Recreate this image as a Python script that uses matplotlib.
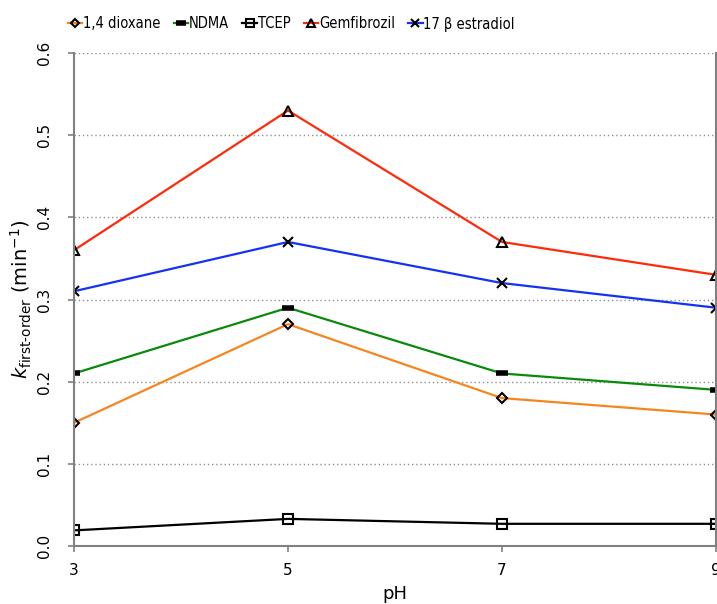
import matplotlib.pyplot as plt

# first-order rate constants vs pH
ph = [3, 5, 7, 9]
dioxane = [0.15, 0.27, 0.18, 0.16]
ndma = [0.21, 0.29, 0.21, 0.19]
tcep = [0.019, 0.033, 0.027, 0.027]
gemfibrozil = [0.36, 0.53, 0.37, 0.33]
estradiol = [0.31, 0.37, 0.32, 0.29]

series = [
    ('1,4 dioxane', dioxane, '#F5861F', 'D', 5),
    ('NDMA', ndma, '#0A8A0A', '_', 8),
    ('TCEP', tcep, 'black', 's', 7),
    ('Gemfibrozil', gemfibrozil, '#FF2A0A', '^', 7),
    ('17 β estradiol', estradiol, '#1432F5', 'x', 7),
]

fig = plt.figure(figsize=(7.17, 6.04), dpi=100)
ax = fig.add_axes([74 / 717, 1 - 546 / 604, 642 / 717, 493 / 604])

for label, vals, color, marker, ms in series:
    kw = dict(color=color, lw=1.6, marker=marker, markersize=ms,
              markeredgecolor='black', markerfacecolor='none',
              markeredgewidth=1.5, label=label)
    if marker == '_':
        kw.update(markeredgewidth=4)
    ax.plot(ph, vals, **kw)

ax.set_xlim(3, 9)
ax.set_ylim(0, 0.6)
ax.set_xticks(ph)
ax.set_yticks([0.0, 0.1, 0.2, 0.3, 0.4, 0.5, 0.6])
ax.set_yticklabels(['%.1f' % v for v in ax.get_yticks()], rotation=90, va='center')
ax.tick_params(labelsize=11, colors='#808080', labelcolor='black', length=4, width=1.2)
ax.tick_params(axis='y', pad=12)
ax.tick_params(axis='x', pad=8)
ax.yaxis.grid(True, linestyle=(0, (1, 2)), color='#909090', lw=1)
ax.set_axisbelow(True)
for side in ['left', 'bottom', 'right']:
    ax.spines[side].set_color('#808080')
    ax.spines[side].set_linewidth(1.5)
ax.spines['top'].set_visible(False)

ax.set_xlabel('pH', fontsize=13, labelpad=5)
ax.set_ylabel('$k_{\\mathrm{first‐order}}$ (min$^{\\mathrm{-1}}$)', fontsize=14, labelpad=2)

fig.legend(loc='center left', bbox_to_anchor=(62 / 717, 1 - 24 / 604), ncol=5,
           frameon=False, handlelength=1.0, handletextpad=0.05,
           columnspacing=0.9, borderaxespad=0, markerscale=0.85,
           prop={'family': 'DejaVu Sans', 'stretch': 'condensed', 'size': 10.5})

fig.savefig('out.png', dpi=100)
